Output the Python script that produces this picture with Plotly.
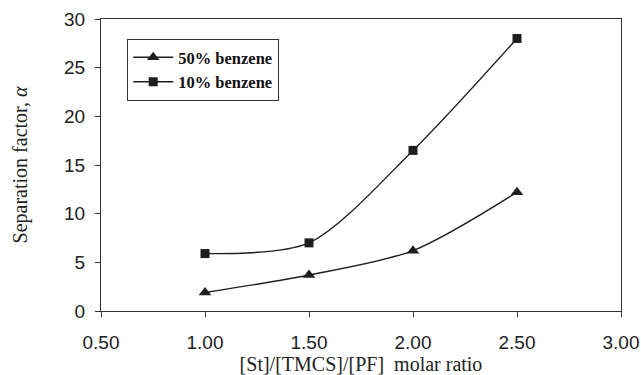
import plotly.graph_objects as go

# Molar ratio [St]/[TMCS]/[PF]
ratio = [1.0, 1.5, 2.0, 2.5]
# Separation factor for each feed composition
alpha_50 = [1.9, 3.7, 6.2, 12.2]
alpha_10 = [5.9, 7.0, 16.5, 28.0]

x_ticks = [0.5, 1.0, 1.5, 2.0, 2.5, 3.0]
x_tick_text = ["0.50", "1.00", "1.50", "2.00", "2.50", "3.00"]
y_ticks = [0, 5, 10, 15, 20, 25, 30]

ink = "#1e1e1e"
serif = "Liberation Serif, Times New Roman, serif"
sans = "Liberation Sans, Arial, sans-serif"

fig = go.Figure()
fig.add_trace(go.Scatter(
    x=ratio, y=alpha_50, name="50% benzene", mode="lines+markers",
    line=dict(color=ink, width=1.4, shape="spline", smoothing=0.8),
    marker=dict(symbol="triangle-up", size=11, color=ink),
    legendgroup="a",
))
fig.add_trace(go.Scatter(
    x=ratio, y=alpha_10, name="10% benzene", mode="lines+markers",
    line=dict(color=ink, width=1.4, shape="spline", smoothing=0.8),
    marker=dict(symbol="square", size=9, color=ink),
    legendgroup="b",
))

axis_common = dict(
    showline=True, linecolor="#333", linewidth=1.3, mirror=True,
    ticks="outside", ticklen=5, tickwidth=1.2, tickcolor="#333",
    showgrid=False, zeroline=False, automargin=False,
    tickfont=dict(family=sans, size=19, color="#222"),
)

fig.update_layout(
    width=641, height=375,
    margin=dict(l=101, r=20, t=19, b=64),
    paper_bgcolor="white", plot_bgcolor="white",
    showlegend=True,
    legend=dict(
        x=0.05, y=0.932, xanchor="left", yanchor="top",
        bordercolor="#333", borderwidth=1.2, bgcolor="white",
        font=dict(family=serif, size=16.5, color="#111", weight=600),
        tracegroupgap=7, traceorder="normal",
        itemwidth=40,
    ),
    xaxis=dict(
        range=[0.5, 3.0], tickvals=x_ticks, ticktext=x_tick_text,
        ticklabelstandoff=9,
        title=dict(text="[St]/[TMCS]/[PF]  molar ratio",
                   font=dict(family=serif, size=20, color="#222"), standoff=2),
        **axis_common,
    ),
    yaxis=dict(
        range=[0, 30], tickvals=y_ticks,
        ticklabelstandoff=6,
        title=dict(text="Separation factor, <i>α</i>",
                   font=dict(family=serif, size=20, color="#222"), standoff=30),
        **axis_common,
    ),
)

fig.write_html("out.html")
